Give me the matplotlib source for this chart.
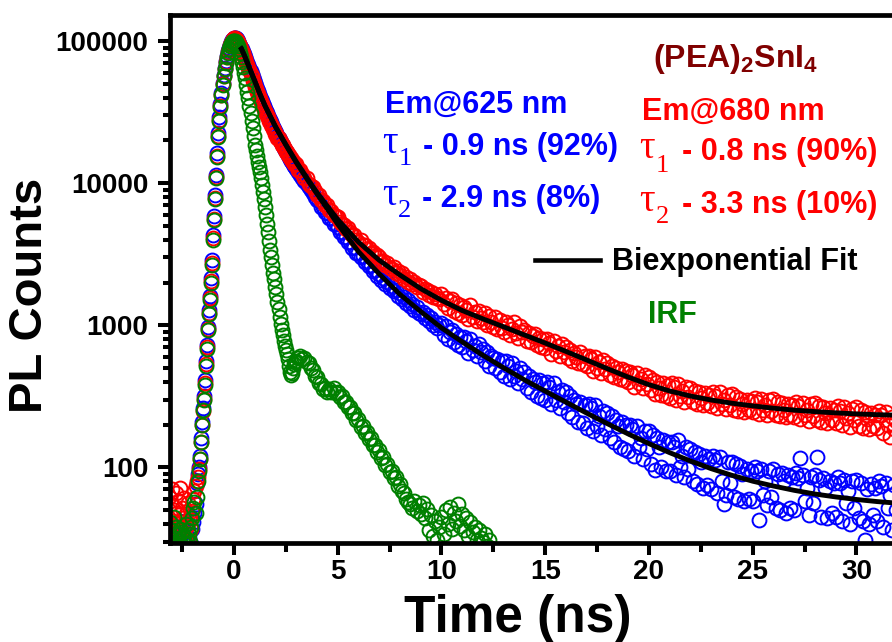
import numpy as np
import matplotlib
matplotlib.use('Agg')
import matplotlib.pyplot as plt
from matplotlib.lines import Line2D
from matplotlib.ticker import FixedLocator, FixedFormatter, MultipleLocator, LogLocator, NullFormatter

plt.rcParams['font.family'] = ['Liberation Sans', 'DejaVu Sans']
plt.rcParams['font.weight'] = 'bold'
plt.rcParams['mathtext.fontset'] = 'custom'
plt.rcParams['mathtext.rm'] = 'Liberation Sans:bold'
plt.rcParams['mathtext.it'] = 'Liberation Sans:bold'
plt.rcParams['mathtext.bf'] = 'Liberation Sans:bold'

# ---------------- data ----------------
# early channels: start -3.2 ns, 0.05 ns spacing ; late channels: start 3.0 ns, 0.1 ns spacing
early_start, early_step = -3.2, 0.05
late_start, late_step = 3.0, 0.1

red_early = [45, 62, 38, 55, 70, 42, 50, 35, 66, 48, 40, 58, 72, 36, 52, 44, 61, 33, 47, 39,
             56, 31, 43, 37, 49, 60, 68, 74,
             80, 86, 98, 115, 150, 200, 250, 305, 390, 530, 700, 940, 1230, 1560, 2050, 2750,
             4100, 5600, 7900, 11000, 15500, 21500, 28000, 35000, 42000, 49500, 57000, 64000,
             71000, 77500, 83500, 88500, 93000, 97000, 100500, 103000, 104500, 104500, 103500,
             101500, 98500, 95000, 91500,
             88500, 85000, 82300, 77800, 74800, 70600, 68300, 64700, 62200, 58700, 56300, 52700,
             50800, 47600, 46300, 43700, 42500, 40200, 39200, 37200, 36300, 34300, 33500, 31700,
             31100, 29500, 29000, 27500, 27000, 25600, 25200, 23900, 23500, 22300, 22000, 20900,
             20700, 19700, 19500, 18600, 18500, 17600, 17500, 16600, 16600, 15800, 15800, 15000,
             15000, 14300, 14300, 13700, 13700]
red_late = [13600, 12400, 12400, 11600, 10800, 10900, 9900, 9500, 9400, 8800,
            8300, 8200, 7600, 7500, 7000, 7000, 6450, 6350, 6000, 5900,
            5750, 5300, 5150, 5100, 4750, 4800, 4500, 4300, 4300, 4000,
            3850, 3950, 3650, 3700, 3450, 3480, 3250, 3300, 3050, 3100,
            3000, 2800, 2850, 2650, 2750, 2550, 2480, 2560, 2350, 2400,
            2250, 2330, 2120, 2200, 2020, 2100, 1960, 2010, 1860, 1920,
            1880, 1720, 1790, 1760, 1640, 1720, 1580, 1670, 1560, 1530,
            1650, 1420, 1560, 1330, 1480, 1520, 1270, 1440, 1230, 1390,
            1180, 1350, 1290, 1110, 1390, 1150, 1240, 1070, 1270, 1130,
            1060, 1230, 1010, 1160, 1050, 980, 1140, 940, 1090, 960,
            900, 1060, 1010, 860, 940, 1050, 880, 820, 990, 900,
            930, 780, 880, 760, 840, 870, 730, 820, 700, 800,
            690, 800, 750, 630, 780, 660, 720, 610, 740, 650,
            700, 590, 670, 560, 640, 600, 540, 650, 530, 610,
            520, 610, 580, 480, 600, 500, 550, 460, 570, 490,
            540, 450, 520, 430, 500, 470, 420, 490, 410, 475,
            400, 470, 450, 370, 465, 390, 420, 360, 445, 385,
            430, 350, 410, 330, 400, 360, 325, 395, 320, 380,
            310, 390, 370, 300, 385, 320, 345, 290, 370, 315,
            365, 290, 345, 280, 340, 310, 275, 335, 285, 325,
            270, 340, 320, 262, 338, 280, 300, 258, 325, 275,
            330, 255, 315, 250, 305, 280, 245, 300, 255, 295,
            245, 310, 290, 238, 305, 255, 275, 232, 300, 250,
            305, 235, 290, 230, 285, 255, 225, 280, 235, 275,
            225, 290, 270, 218, 285, 235, 255, 212, 280, 230,
            285, 215, 270, 210, 265, 240, 205, 262, 215, 255,
            205, 272, 250, 198, 265, 222, 240, 192, 258, 215,
            265, 195, 252, 190, 245, 220, 185, 240, 195, 235,
            190, 250, 232, 175, 245, 200, 165, 228, 185, 212]

blue_early = [28, 35, 22, 30, 40, 25, 33, 27, 38, 24, 31, 29, 42, 26, 34, 23, 36, 30, 27, 39,
              25, 32, 44, 29, 37, 41, 48, 55,
              78, 90, 100, 120, 160, 210, 260, 320, 410, 560, 730, 980, 1280, 1620, 2150, 2900,
              4300, 5900, 8300, 11500, 16200, 22500, 29000, 36000, 43000, 50500, 58000, 65000,
              72000, 78500, 84500, 89500, 94000, 98000, 101500, 104000, 105500, 105500, 104500,
              102500, 99500, 96000, 92500,
              90000, 87500, 84000, 80500, 77000, 73500, 70500, 67500, 64500, 61500,
              58500, 55500, 53000, 50500, 48300, 46200, 44200, 42400, 40700, 39100,
              37600, 36100, 34700, 33400, 32200, 31000, 29900, 28800, 27800, 26800,
              25800, 24900, 24000, 23200, 22400, 21600, 20900, 20200, 19500, 18900,
              18300, 17700, 17200, 16700, 16200, 15700, 15200, 14800, 14400, 14000,
              13600, 13300, 12900]
blue_late = [12600, 11900, 11500, 10800, 10400, 9800, 9400, 8900, 8550, 8050,
             7600, 7500, 6850, 6800, 6250, 6200, 5700, 5680, 5200, 5150,
             4950, 4550, 4520, 4150, 4180, 3850, 3850, 3520, 3550, 3250,
             3250, 3000, 3050, 2780, 2830, 2600, 2640, 2410, 2460, 2240,
             2280, 2080, 2150, 1950, 2010, 1840, 1900, 1730, 1760, 1620,
             1680, 1520, 1580, 1440, 1500, 1360, 1420, 1290, 1340, 1220,
             1200, 1250, 1120, 1180, 1070, 1120, 1010, 1060, 960, 1010,
             1040, 850, 990, 800, 900, 930, 760, 870, 730, 830,
             700, 830, 780, 640, 800, 670, 720, 610, 740, 650,
             680, 560, 650, 520, 610, 590, 500, 580, 470, 560,
             440, 560, 520, 420, 540, 440, 480, 390, 500, 420,
             470, 360, 440, 340, 420, 400, 320, 410, 310, 390,
             300, 400, 370, 280, 390, 300, 340, 260, 350, 290,
             340, 240, 320, 225, 300, 280, 210, 290, 205, 275,
             190, 280, 260, 180, 275, 195, 230, 170, 250, 185,
             240, 160, 230, 150, 215, 195, 140, 210, 135, 200,
             130, 200, 185, 120, 195, 140, 160, 115, 180, 135,
             180, 105, 170, 96, 160, 140, 100, 155, 95, 150,
             95, 150, 140, 88, 155, 100, 120, 85, 140, 98,
             135, 80, 128, 76, 125, 110, 72, 120, 75, 115,
             70, 120, 112, 66, 118, 80, 55, 64, 110, 78,
             110, 62, 105, 60, 102, 90, 58, 98, 60, 95,
             58, 100, 94, 43, 98, 64, 80, 54, 95, 62,
             98, 52, 90, 50, 92, 80, 48, 88, 52, 85,
             50, 92, 84, 116, 88, 58, 72, 46, 86, 56,
             88, 118, 82, 45, 84, 72, 44, 80, 48, 78,
             45, 85, 78, 42, 82, 56, 68, 40, 80, 52,
             82, 44, 78, 42, 31, 70, 40, 76, 46, 72,
             42, 80, 74, 38, 78, 52, 64, 36, 75, 50]

irf_early = [33, 27, 41, 30, 36, 29, 45, 32, 38, 28, 34, 31, 37, 26, 35, 30, 33, 29, 40, 31,
             36, 34, 30, 38, 44, 52, 57, 48,
             62, 80, 95, 115, 150, 200, 255, 300, 380, 520, 680, 920, 1200, 1500, 2000, 2650,
             4000, 5500, 7700, 10800, 15300, 21000, 27500, 34500, 41500, 49000, 56500, 63500,
             70500, 77000, 83000, 88000, 92500, 96000, 98500, 100000, 100500, 100000, 98500,
             96000, 92500, 88000, 83000,
             77000, 71500, 66000, 60000, 54500, 49000, 44000, 39500, 35000, 31000,
             27500, 24500, 21500, 18700, 17000, 15500, 14200, 13000, 12000, 10800,
             9700, 8600, 7700, 6800, 6000, 5200, 4500, 3900, 3400, 3000,
             2650, 2350, 2100, 1850, 1650, 1450, 1300, 1150, 1020, 930,
             850, 780, 720, 670, 630, 580, 520, 470, 450, 460,
             500, 530, 550]
irf_late = [565, 585, 612, 580, 590, 548, 545, 500, 488, 440,
            430, 392, 388, 358, 362, 340, 355, 342, 360, 336,
            342, 315, 318, 288, 290, 265, 268, 240, 242, 215,
            218, 194, 196, 175, 178, 158, 160, 144, 143, 128,
            132, 116, 118, 104, 106, 93, 95, 84, 85, 74,
            76, 68, 66, 60, 57, 55, 52, 58, 49, 54,
            47, 56, 44, 51, 36, 46, 33, 42, 31, 38,
            45, 34, 50, 40, 53, 37, 48, 42, 55, 39,
            47, 36, 44, 33, 41, 35, 38, 31, 36, 32,
            30, 34, 28, 31, 27]

fit_t = [0.3, 0.35, 0.5, 0.75, 1.0, 1.25, 1.5, 2.0, 2.5, 3.0, 3.5, 4.0, 4.5,
         5, 6, 7, 8, 9, 10, 11, 12, 13, 14, 15, 16, 17, 18, 19, 20, 21, 22, 23, 24,
         25, 26, 27, 28, 29, 30, 31, 32]
fit_red = [91000, 89000, 79500, 64500, 52500, 42500, 35000, 25000, 18700, 14200, 11000, 8600, 6900,
           5550, 3850, 2870, 2260, 1810, 1500, 1270, 1110, 975, 855, 750, 655, 570, 495, 432, 382,
           345, 318, 298, 283, 271, 261, 253, 247, 242, 238, 235, 233]
fit_blue = [91000, 89000, 79500, 64500, 52500, 42500, 35000, 25000, 18600, 14000, 10800, 8400, 6600,
            5150, 3300, 2300, 1650, 1250, 960, 765, 615, 502, 413, 344, 288, 241, 203, 172, 147,
            127, 111, 98, 88, 80, 74, 69, 65, 62, 59.5, 57.5, 56]

xtick_vals = [0, 5, 10, 15, 20, 25, 30]
xtick_labels = ['0', '5', '10', '15', '20', '25', '30']
ytick_vals = [100, 1000, 10000, 100000]
ytick_labels = ['100', '1000', '10000', '100000']

BLUE, RED, GREEN, MAROON = '#0000FF', '#FF0000', '#008000', '#800000'


def channels(early, late):
    te = early_start + early_step * np.arange(len(early))
    tl = late_start + late_step * np.arange(len(late))
    return np.concatenate([te, tl]), np.concatenate([early, late]).astype(float)


W, H = 892, 642
fig = plt.figure(figsize=(W / 100, H / 100), dpi=100)
ax = fig.add_axes([170 / W, (H - 543) / H, 728 / W, 528 / H])

mk = dict(linestyle='none', marker='o', mfc='none', ms=10, mew=1.4)
for early, late, col in [(blue_early, blue_late, BLUE), (red_early, red_late, RED),
                         (irf_early, irf_late, GREEN)]:
    t, y = channels(early, late)
    ax.plot(t, y, mec=col, **mk)

ax.plot(fit_t, fit_red, color='black', lw=3.5, solid_capstyle='butt')
ax.plot(fit_t, fit_blue, color='black', lw=3.5, solid_capstyle='butt')

ax.set_yscale('log')
ax.set_xlim(-3.08, 32.0)
ax.set_ylim(29.4, 152400)

ax.xaxis.set_major_locator(FixedLocator(xtick_vals))
ax.xaxis.set_major_formatter(FixedFormatter(xtick_labels))
ax.xaxis.set_minor_locator(MultipleLocator(2.5))
ax.yaxis.set_major_locator(FixedLocator(ytick_vals))
ax.yaxis.set_major_formatter(FixedFormatter(ytick_labels))
ax.yaxis.set_minor_locator(LogLocator(base=10, subs=range(2, 10)))
ax.yaxis.set_minor_formatter(NullFormatter())

ax.tick_params(which='both', direction='out', width=2.9, top=False, right=False)
ax.tick_params(axis='y', which='major', length=8.5, pad=7, labelsize=20)
ax.tick_params(axis='y', which='minor', length=5)
ax.tick_params(axis='x', which='major', length=8.5, pad=3, labelsize=20)
ax.tick_params(axis='x', which='minor', length=6.5)
for lbl in ax.get_xticklabels() + ax.get_yticklabels():
    lbl.set_fontweight('bold')
for sp in ax.spines.values():
    sp.set_linewidth(3.4)


def ftxt(x, y, s, **kw):
    kw.setdefault('va', 'baseline')
    kw.setdefault('ha', 'left')
    fig.text(x / W, 1 - y / H, s, **kw)


BOLD = dict(fontweight='bold', fontsize=22)
SERIF = dict(family=['Liberation Serif', 'DejaVu Serif'], fontweight='normal')

ftxt(30, 295, 'PL Counts', rotation=90, ha='center', va='center', fontweight='bold', fontsize=34)
ftxt(518, 632, 'Time (ns)', ha='center', fontweight='bold', fontsize=37)

ftxt(653, 67, r'(PEA)$_{2}$SnI$_{4}$', color=MAROON, fontweight='bold', fontsize=23)

ftxt(385, 113, 'Em@625 nm', color=BLUE, **BOLD)
ftxt(382, 153, 'τ', fontsize=28, color=BLUE, **SERIF)
ftxt(399, 165, '1', fontsize=19, color=BLUE, **SERIF)
ftxt(423, 155, '- 0.9 ns (92%)', color=BLUE, **BOLD)
ftxt(382, 205, 'τ', fontsize=28, color=BLUE, **SERIF)
ftxt(398, 217, '2', fontsize=19, color=BLUE, **SERIF)
ftxt(422, 207, '- 2.9 ns (8%)', color=BLUE, **BOLD)

ftxt(642, 120, 'Em@680 nm', color=RED, **BOLD)
ftxt(639, 158, 'τ', fontsize=28, color=RED, **SERIF)
ftxt(656, 172, '1', fontsize=19, color=RED, **SERIF)
ftxt(682, 160, '- 0.8 ns (90%)', color=RED, **BOLD)
ftxt(639, 211, 'τ', fontsize=28, color=RED, **SERIF)
ftxt(656, 223, '2', fontsize=19, color=RED, **SERIF)
ftxt(682, 213, '- 3.3 ns (10%)', color=RED, **BOLD)

fig.add_artist(Line2D([535 / W, 600 / W], [1 - 260 / H, 1 - 260 / H], color='black', lw=3.3,
                      transform=fig.transFigure))
ftxt(612, 270, 'Biexponential Fit', color='black', **BOLD)
ftxt(648, 323, 'IRF', color=GREEN, **BOLD)

fig.savefig('out.png', dpi=100)
